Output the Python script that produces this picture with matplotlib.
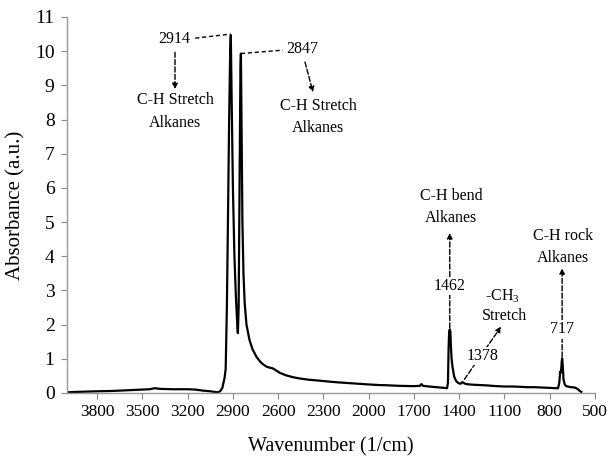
import matplotlib
matplotlib.use("Agg")
import matplotlib.pyplot as plt

plt.rcParams['font.family'] = ['Liberation Serif', 'DejaVu Serif']
plt.rcParams['mathtext.fontset'] = 'custom'
plt.rcParams['mathtext.rm'] = 'Liberation Serif'
plt.rcParams['mathtext.it'] = 'Liberation Serif:italic'

# Spectrum (wavenumber in 1/cm, absorbance in a.u.)
wavenumber = [4000, 3950, 3800, 3700, 3600, 3550, 3450, 3420, 3380, 3300, 3200, 3150,
              3100, 3050, 3020, 3000, 2985, 2970, 2960, 2955, 2948, 2940, 2933, 2925,
              2918, 2914, 2908, 2900, 2890, 2880, 2870, 2867, 2862, 2856, 2850, 2847,
              2842, 2837, 2830, 2822, 2810, 2790, 2770, 2744, 2720, 2700, 2677, 2655,
              2635, 2610, 2589, 2550, 2500, 2450, 2400, 2300, 2255, 2200, 2100, 2000,
              1922, 1900, 1850, 1800, 1700, 1660, 1650, 1640, 1600, 1550, 1500, 1480,
              1474, 1470, 1466, 1462, 1458, 1455, 1450, 1444, 1433, 1420, 1405, 1390,
              1378, 1365, 1350, 1330, 1300, 1250, 1211, 1150, 1100, 1050, 989, 950,
              900, 850, 800, 760, 744, 736, 730, 725, 720, 717, 713, 708, 700, 690,
              660, 633, 615, 600, 590]
absorbance = [0.02, 0.03, 0.05, 0.06, 0.08, 0.09, 0.11, 0.14, 0.12, 0.11, 0.11, 0.10,
              0.07, 0.05, 0.03, 0.02, 0.05, 0.15, 0.35, 0.45, 0.7, 2.5, 5.0, 8.0,
              10.0, 10.47, 8.5, 6.0, 4.0, 2.8, 1.9, 1.75, 2.5, 6.0, 9.5, 9.93,
              7.5, 5.0, 3.5, 2.63, 2.0, 1.55, 1.28, 1.06, 0.92, 0.84, 0.77, 0.74,
              0.72, 0.65, 0.59, 0.52, 0.46, 0.42, 0.39, 0.35, 0.33, 0.31, 0.28, 0.25,
              0.23, 0.23, 0.22, 0.21, 0.20, 0.21, 0.26, 0.21, 0.19, 0.17, 0.15, 0.14,
              0.3, 1.3, 1.8, 1.86, 1.8, 1.4, 1.0, 0.77, 0.48, 0.35, 0.29, 0.27,
              0.32, 0.28, 0.26, 0.25, 0.24, 0.23, 0.22, 0.20, 0.19, 0.19, 0.18, 0.17,
              0.17, 0.16, 0.15, 0.14, 0.14, 0.3, 0.62, 0.6, 0.9, 1.01, 0.8, 0.4, 0.25, 0.2,
              0.17, 0.16, 0.12, 0.06, 0.03]

x_ticks = [3800, 3500, 3200, 2900, 2600, 2300, 2000, 1700, 1400, 1100, 800, 500]
y_ticks = list(range(0, 12))

fig = plt.figure(figsize=(6.12, 4.59), dpi=100)
ax = fig.add_axes([0.1095, 0.1438, 0.8625, 0.8192])
ax.plot(wavenumber, absorbance, color='black', lw=1.6, solid_joinstyle='round')

ax.set_xlim(4000, 500)
ax.set_ylim(0, 11)
ax.set_xticks(x_ticks)
ax.set_yticks(y_ticks)
ax.tick_params(axis='x', labelsize=12.5, colors='#888888', labelcolor='black', length=4, pad=4)
ax.tick_params(axis='y', labelsize=14, colors='#888888', labelcolor='black', length=4, pad=5)
for s in ['top', 'right']:
    ax.spines[s].set_visible(False)
for s in ['left', 'bottom']:
    ax.spines[s].set_color('#999999')
    ax.spines[s].set_linewidth(1.0)

ax.set_xlabel('Wavenumber (1/cm)', fontsize=14.5, labelpad=12)
ax.set_ylabel('Absorbance (a.u.)', fontsize=15, labelpad=7)

fs = 11.5
dash = (0, (3, 2))
arrow_kw = dict(arrowstyle='-|>', lw=1.0, color='black', linestyle='--',
                mutation_scale=8, shrinkA=0, shrinkB=0)

# 2914 label with dashed leader to peak
ax.plot([3150, 2914], [10.38, 10.5], color='black', lw=1.0, ls=dash)
ax.text(3289, 10.35, '2914', fontsize=fs, ha='center', va='center')
ax.annotate('', xy=(3284, 8.89), xytext=(3284, 9.97), arrowprops=arrow_kw)
ax.text(3284, 8.57, 'C-H Stretch', fontsize=fs, ha='center', va='center')
ax.text(3284, 7.89, 'Alkanes', fontsize=fs, ha='center', va='center')

# 2847
ax.plot([2847, 2569], [9.93, 10.03], color='black', lw=1.0, ls=dash)
ax.text(2442, 10.06, '2847', fontsize=fs, ha='center', va='center')
ax.annotate('', xy=(2369, 8.80), xytext=(2422, 9.68), arrowprops=arrow_kw)
ax.text(2335, 8.39, 'C-H Stretch', fontsize=fs, ha='center', va='center')
ax.text(2335, 7.75, 'Alkanes', fontsize=fs, ha='center', va='center')

# 1462
ax.annotate('', xy=(1462, 4.68), xytext=(1462, 1.9), arrowprops=arrow_kw)
ax.text(1462, 3.13, '1462', fontsize=fs, ha='center', va='center',
        bbox=dict(facecolor='white', edgecolor='none', pad=1), zorder=5)
ax.text(1455, 5.76, 'C-H bend', fontsize=fs, ha='center', va='center')
ax.text(1455, 5.12, 'Alkanes', fontsize=fs, ha='center', va='center')

# 1378
ax.annotate('', xy=(1122, 1.94), xytext=(1365, 0.40), arrowprops=arrow_kw)
ax.text(1244, 1.08, '1378', fontsize=fs, ha='center', va='center',
        bbox=dict(facecolor='white', edgecolor='none', pad=0.5), zorder=5)
ax.text(1111, 2.84, r'-CH$_3$', fontsize=fs, ha='center', va='center')
ax.text(1102, 2.25, 'Stretch', fontsize=fs, ha='center', va='center')

# 717
ax.annotate('', xy=(717, 3.65), xytext=(717, 1.05), arrowprops=arrow_kw)
ax.text(717, 1.87, '717', fontsize=fs, ha='center', va='center',
        bbox=dict(facecolor='white', edgecolor='none', pad=1), zorder=5)
ax.text(711, 4.59, 'C-H rock', fontsize=fs, ha='center', va='center')
ax.text(711, 3.95, 'Alkanes', fontsize=fs, ha='center', va='center')

fig.savefig('out.png', dpi=100)
